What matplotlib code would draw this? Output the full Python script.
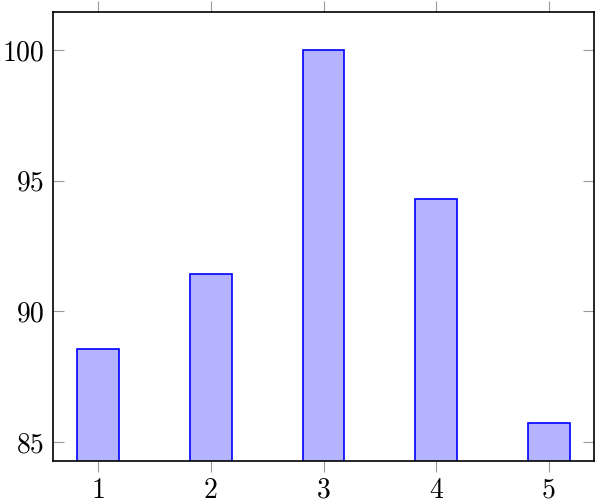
import matplotlib.pyplot as plt

plt.rcParams['font.family'] = 'cmr10'
plt.rcParams['mathtext.fontset'] = 'cm'
plt.rcParams['axes.formatter.use_mathtext'] = True

# data
positions = [1, 2, 3, 4, 5]
values = [88.57, 91.43, 100.0, 94.29, 85.71]
yticks = [85, 90, 95, 100]

fig = plt.figure(figsize=(5.96, 5.04), dpi=100)
ax = fig.add_axes([53 / 596, 43 / 504, 541 / 596, 449 / 504])

ax.bar(positions, values, width=0.372, bottom=0, color='#b3b3ff',
       edgecolor='blue', linewidth=1.2, zorder=2)

ax.set_xlim(0.6, 5.4)
ax.set_ylim(84.27, 101.45)
ax.set_xticks(positions)
ax.set_yticks(yticks)
ax.set_xticklabels([str(p) for p in positions])
ax.set_yticklabels([str(t) for t in yticks])

ax.tick_params(axis='x', direction='out', top=True, bottom=True,
               color='#999999', length=8, width=0.8, labelsize=20, pad=4)
ax.tick_params(axis='y', direction='in', left=True, right=True,
               color='#999999', length=8, width=0.8, labelsize=20, pad=6)
for s in ax.spines.values():
    s.set_linewidth(1.2)
    s.set_zorder(3)

fig.savefig('out.png', dpi=100)
